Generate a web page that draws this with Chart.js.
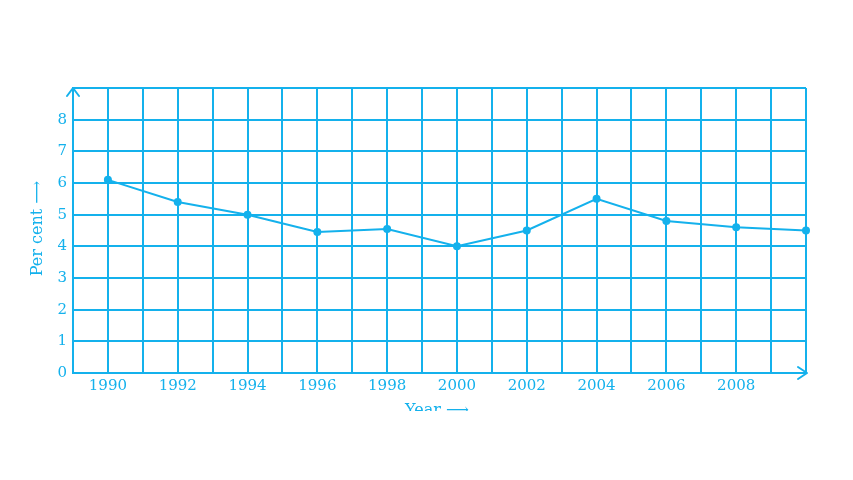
<!DOCTYPE html>
<html><head><meta charset="utf-8">
<script src="https://cdn.jsdelivr.net/npm/chart.js@4"></script>
<style>html,body{margin:0;padding:0;background:#fff}#w{width:853px;height:480px;position:relative}</style>
</head><body><div id="w"><canvas id="c"></canvas></div>
<script>
const years = [1990, 1992, 1994, 1996, 1998, 2000, 2002, 2004, 2006, 2008, 2010];
const percent = [6.1, 5.4, 5.0, 4.45, 4.55, 4.0, 4.5, 5.5, 4.8, 4.6, 4.5];
const xLabelYears = [1990, 1992, 1994, 1996, 1998, 2000, 2002, 2004, 2006, 2008];
const yLabels = [0, 1, 2, 3, 4, 5, 6, 7, 8];
const yTitle = 'Per cent ⟶';
const xTitle = 'Year ⟶';
const C = '#14b1ec';
const FONT = '"DejaVu Serif", serif';

const decor = {
  id: 'decor',
  afterDraw(chart) {
    const ctx = chart.ctx, a = chart.chartArea;
    ctx.save();
    ctx.strokeStyle = C; ctx.lineWidth = 2; ctx.lineCap = 'round'; ctx.lineJoin = 'round';
    // y arrow
    ctx.beginPath();
    ctx.moveTo(a.left - 6, a.top + 8); ctx.lineTo(a.left, a.top); ctx.lineTo(a.left + 6, a.top + 8);
    ctx.stroke();
    // x arrow
    ctx.beginPath();
    ctx.moveTo(a.right - 8, a.bottom - 6); ctx.lineTo(a.right + 1, a.bottom); ctx.lineTo(a.right - 8, a.bottom + 6);
    ctx.stroke();
    // y title
    ctx.fillStyle = C; ctx.font = '16px ' + FONT;
    ctx.textAlign = 'center'; ctx.textBaseline = 'middle';
    ctx.save();
    ctx.translate(38, (a.top + a.bottom) / 2 - 2);
    ctx.rotate(-Math.PI / 2);
    ctx.fillText(yTitle, 0, 0);
    ctx.restore();
    // x title (cropped as in the reference)
    ctx.beginPath(); ctx.rect(0, 0, chart.width, 411); ctx.clip();
    ctx.textAlign = 'left'; ctx.textBaseline = 'top';
    ctx.fillText(xTitle, 405, 403);
    ctx.restore();
  }
};

new Chart(document.getElementById('c'), {
  type: 'line',
  data: {
    datasets: [{
      data: years.map((y, i) => ({x: y, y: percent[i]})),
      borderColor: C, backgroundColor: C, borderWidth: 2,
      pointRadius: 4, pointBackgroundColor: C, pointBorderWidth: 0,
      tension: 0, clip: false
    }]
  },
  options: {
    responsive: true, maintainAspectRatio: false, animation: false,
    layout: {padding: {top: 88, right: 47, bottom: 77, left: 0}},
    plugins: {legend: {display: false}, tooltip: {enabled: false}},
    scales: {
      x: {
        type: 'linear', min: 1989, max: 2010,
        afterFit(s) { s.height = 30; },
        afterBuildTicks(s) { s.ticks = []; for (let v = 1989; v <= 2010; v++) s.ticks.push({value: v}); },
        grid: {color: C, lineWidth: 2, drawTicks: false},
        border: {color: C, width: 2},
        ticks: {
          autoSkip: false, maxRotation: 0, padding: 4, color: C,
          font: {family: FONT, size: 15},
          callback: v => xLabelYears.includes(v) ? String(v) : ''
        }
      },
      y: {
        min: 0, max: 9,
        afterFit(s) { s.width = 73; },
        afterBuildTicks(s) { s.ticks = []; for (let v = 0; v <= 9; v++) s.ticks.push({value: v}); },
        grid: {color: C, lineWidth: 2, drawTicks: false},
        border: {color: C, width: 2},
        ticks: {
          padding: 6, color: C,
          font: {family: FONT, size: 15},
          callback: v => yLabels.includes(v) ? String(v) : ''
        }
      }
    }
  },
  plugins: [decor]
});
</script></body></html>
